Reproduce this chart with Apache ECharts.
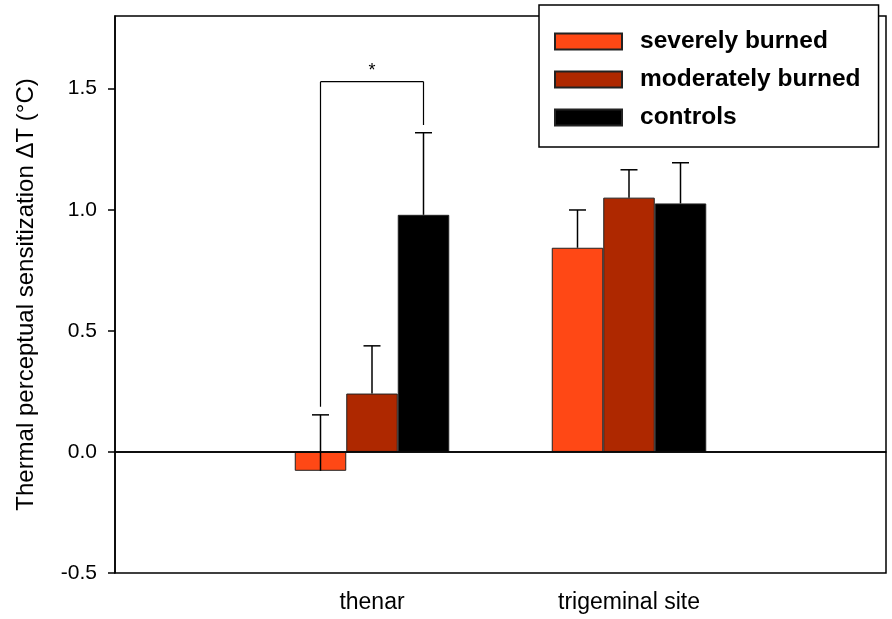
<!DOCTYPE html>
<html>
<head>
<meta charset="utf-8">
<script src="https://cdn.jsdelivr.net/npm/echarts@6/dist/echarts.min.js"></script>
<style>
  html, body { margin: 0; padding: 0; background: #fff; }
  #chart { width: 892px; height: 619px; }
</style>
</head>
<body>
<div id="chart"></div>
<script>
// data
var categories = ['', 'thenar', 'trigeminal site', ''];
var seriesNames = ['severely burned', 'moderately burned', 'controls'];
var severeVals = ['-', -0.078, 0.843, '-'];
var moderateVals = ['-', 0.241, 1.050, '-'];
var controlVals = ['-', 0.979, 1.026, '-'];
var severeErr = [0, 0.231, 0.156, 0];
var moderateErr = [0, 0.197, 0.115, 0];
var controlErr = [0, 0.339, 0.168, 0];
var yTicks = [-0.5, 0, 0.5, 1.0, 1.5];
// significance bracket: [top, left end, right end]
var sigBracket = [1.529, 0.186, 1.35];

var colors = ['#ff4815', '#ae2800', '#000000'];
var font = 'Liberation Sans, Arial, sans-serif';
var barW = 51.5;

var dom = document.getElementById('chart');
var myChart = echarts.init(dom, null, { renderer: 'canvas' });

function errSeries(vals, errs, off) {
  var data = [];
  for (var i = 0; i < vals.length; i++) {
    if (vals[i] !== '-') data.push([i, vals[i], errs[i]]);
  }
  return {
    type: 'custom',
    silent: true,
    z: 5,
    data: data,
    renderItem: function (params, api) {
      var x = api.value(0), v = api.value(1), e = api.value(2);
      var base = api.coord([x, v]);
      var top = api.coord([x, v + e]);
      var cx = base[0] + off;
      var st = { stroke: '#000', lineWidth: 1.5 };
      return {
        type: 'group',
        children: [
          { type: 'line', shape: { x1: cx, y1: base[1], x2: cx, y2: top[1] }, style: st },
          { type: 'line', shape: { x1: cx - 8.5, y1: top[1], x2: cx + 8.5, y2: top[1] }, style: st }
        ]
      };
    }
  };
}

var option = {
  animation: false,
  backgroundColor: '#fff',
  textStyle: { fontFamily: font },
  grid: {
    left: 115, right: 6, top: 16, bottom: 46,
    show: true, borderColor: '#000', borderWidth: 1.5
  },
  legend: {
    orient: 'vertical',
    left: 539, top: 5,
    padding: [24, 18, 17, 15],
    backgroundColor: '#fff',
    borderColor: '#000',
    borderWidth: 1.5,
    itemWidth: 67,
    itemHeight: 16,
    itemGap: 13,
    icon: 'rect',
    z: 10,
    textStyle: { fontFamily: font, fontSize: 24.5, fontWeight: 'bold', color: '#000', lineHeight: 24, padding: [0, 0, 0, 13] },
    data: seriesNames
  },
  xAxis: {
    type: 'category',
    data: categories,
    boundaryGap: false,
    axisLine: { show: true, lineStyle: { color: '#000', width: 1.5 } },
    axisTick: { show: false },
    axisLabel: { color: '#000', fontSize: 23, margin: 18, interval: 0, fontFamily: font },
    splitLine: { show: false }
  },
  yAxis: {
    type: 'value',
    min: -0.5, max: 1.8, interval: 0.5,
    name: 'Thermal perceptual sensitization ΔT (°C)',
    nameLocation: 'middle',
    nameGap: 77,
    nameTextStyle: { color: '#000', fontSize: 24, fontFamily: font },
    axisLine: { show: true, lineStyle: { color: '#000', width: 1.5 } },
    axisTick: { show: true, inside: false, length: 7, customValues: yTicks, lineStyle: { color: '#000', width: 1.5 } },
    axisLabel: {
      color: '#000', fontSize: 21, margin: 18, fontFamily: font,
      customValues: yTicks,
      formatter: function (v) { return v.toFixed(1); }
    },
    splitLine: { show: false }
  },
  series: [
    {
      name: seriesNames[0], type: 'bar', data: severeVals,
      barWidth: barW, barGap: '0%',
      itemStyle: { color: colors[0], borderColor: '#222', borderWidth: 1 },
      markLine: {
        silent: true, symbol: 'none', label: { show: false },
        lineStyle: { color: '#000', type: 'solid', width: 1.5 },
        data: [{ yAxis: 0 }]
      }
    },
    {
      name: seriesNames[1], type: 'bar', data: moderateVals,
      barWidth: barW, barGap: '0%',
      itemStyle: { color: colors[1], borderColor: '#222', borderWidth: 1 }
    },
    {
      name: seriesNames[2], type: 'bar', data: controlVals,
      barWidth: barW, barGap: '0%',
      itemStyle: { color: colors[2], borderColor: '#222', borderWidth: 1 }
    },
    errSeries(severeVals, severeErr, -barW),
    errSeries(moderateVals, moderateErr, 0),
    errSeries(controlVals, controlErr, barW),
    {
      type: 'custom',
      silent: true,
      z: 5,
      data: [[1, sigBracket[0], sigBracket[1], sigBracket[2]]],
      renderItem: function (params, api) {
        var x = api.value(0);
        var t = api.coord([x, api.value(1)]);
        var l = api.coord([x, api.value(2)]);
        var r = api.coord([x, api.value(3)]);
        var xl = t[0] - barW, xr = t[0] + barW;
        var st = { stroke: '#000', lineWidth: 1.2 };
        return {
          type: 'group',
          children: [
            { type: 'line', shape: { x1: xl, y1: l[1], x2: xl, y2: t[1] }, style: st },
            { type: 'line', shape: { x1: xl, y1: t[1], x2: xr, y2: t[1] }, style: st },
            { type: 'line', shape: { x1: xr, y1: t[1], x2: xr, y2: r[1] }, style: st },
            { type: 'text', x: t[0], y: t[1] - 2, style: { text: '*', fill: '#000', font: '18px ' + font, align: 'center', verticalAlign: 'bottom' } }
          ]
        };
      }
    }
  ]
};

myChart.setOption(option);
window.addEventListener('resize', myChart.resize);
</script>
</body>
</html>
